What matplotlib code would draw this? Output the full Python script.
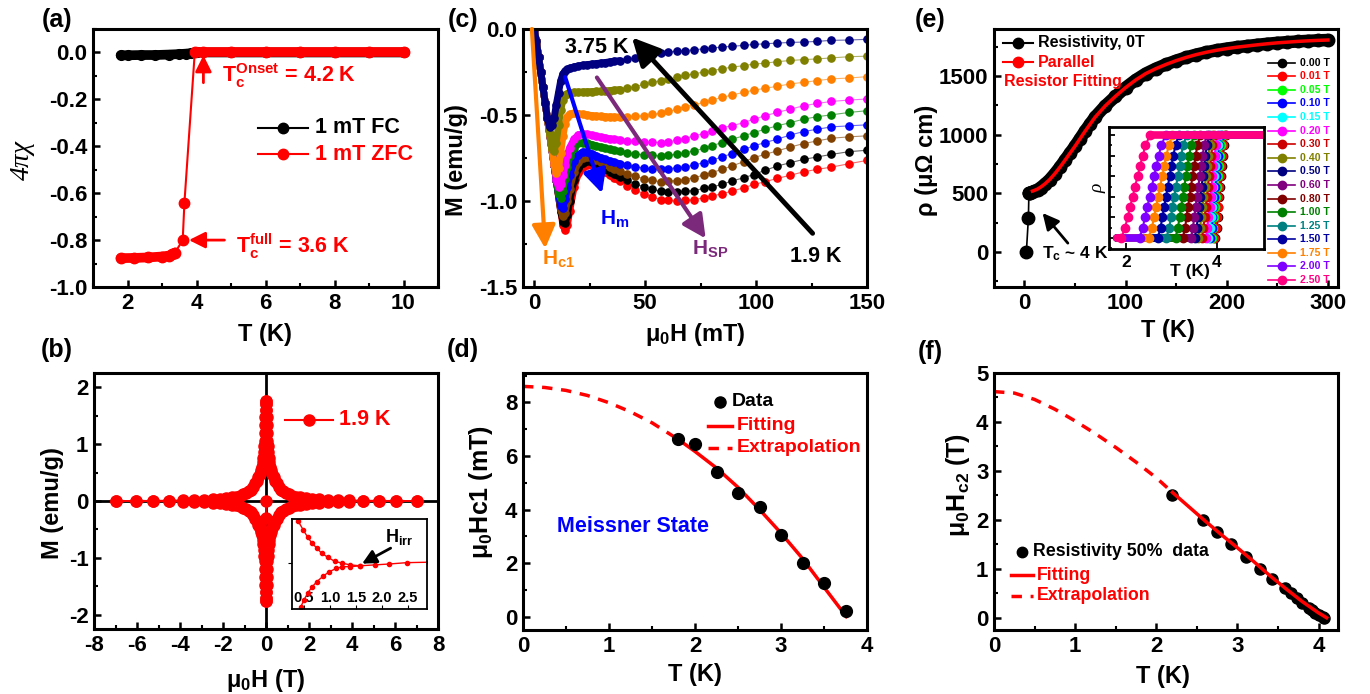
import matplotlib
matplotlib.use('Agg')
import matplotlib.pyplot as plt
from matplotlib.lines import Line2D
from matplotlib.ticker import MultipleLocator, NullFormatter

W, H = 1370, 694
plt.rcParams.update({
    'font.family': ['Liberation Sans', 'DejaVu Sans'],
    'font.weight': 'bold',
    'axes.unicode_minus': False,
    'mathtext.fontset': 'custom',
    'mathtext.rm': 'Liberation Sans:bold',
    'mathtext.it': 'Liberation Sans:bold',
    'mathtext.bf': 'Liberation Sans:bold',
    'mathtext.default': 'regular',
})

# ---------------- data: (a) susceptibility ----------------
fc_T = [1.8, 2.0, 2.4, 2.8, 3.2, 3.5, 3.7, 3.85, 4.0, 5.0, 6.0, 7.0, 8.0, 9.0, 10.0]
fc_chi = [-0.012, -0.012, -0.011, -0.011, -0.009, -0.007, -0.005, -0.003, 0.0, 0.0, 0.0, 0.0, 0.0, 0.0, 0.0]
zfc_T = [1.8, 2.2, 2.6, 3.0, 3.2, 3.3, 3.38, 3.6, 3.65, 3.95, 4.2, 5.0, 6.0, 7.0, 8.0, 9.0, 10.0]
zfc_chi = [-0.877, -0.876, -0.874, -0.870, -0.866, -0.861, -0.853, -0.800, -0.640, 0.0, 0.0, 0.0, 0.0, 0.0, 0.0, 0.0, 0.0]

# ---------------- data: (b) M(H) loop at 1.9 K ----------------
loop_H = [7.0, 6.05, 5.25, 4.5, 3.87, 3.34, 2.87, 2.48, 2.13, 1.85, 1.6, 1.4, 1.22, 1.06, 0.92, 0.8,
          0.7, 0.6, 0.5, 0.42, 0.35, 0.29, 0.24, 0.2, 0.16, 0.13, 0.1, 0.08, 0.065, 0.05, 0.04,
          0.03, 0.02, 0.01, 0.0]
loop_M = [0.001, 0.003, 0.005, 0.008, 0.012, 0.017, 0.023, 0.03, 0.04, 0.05, 0.063, 0.078, 0.095,
          0.115, 0.14, 0.17, 0.2, 0.25, 0.31, 0.36, 0.42, 0.48, 0.54, 0.6, 0.68, 0.76, 0.86, 0.96,
          1.06, 1.2, 1.33, 1.47, 1.6, 1.7, 1.76]
virgin_H = [0.0, 0.003, 0.006, 0.01, 0.015, 0.02]
virgin_M = [0.0, -0.3, -0.6, -0.9, -1.2, -1.5]
ins_up_H = [0.39, 0.49, 0.57, 0.65, 0.75, 0.84, 0.96, 1.09, 1.23, 1.39, 1.58, 1.86, 2.14, 2.48, 2.9]
ins_up_M = [0.372, 0.292, 0.232, 0.18, 0.132, 0.088, 0.052, 0.016, 0.0, -0.016, -0.024, -0.016, -0.008, 0.004, 0.008]
ins_lo_H = [0.44, 0.5, 0.57, 0.65, 0.75, 0.87, 0.99, 1.12, 1.24, 1.39, 1.58]
ins_lo_M = [-0.388, -0.328, -0.268, -0.216, -0.164, -0.116, -0.076, -0.048, -0.032, -0.032, -0.024]

# ---------------- data: (c) M(H) at several temperatures ----------------
c_H = [0, 1, 2, 3, 4, 5, 6, 7, 8, 9, 10, 11, 12, 13, 14, 15, 16, 18, 20, 22, 24, 26, 28, 30, 32, 34, 36,
       38.5, 42, 45.5, 49.5, 53, 57, 60.5, 64.5, 68, 72, 76.5, 80, 84.5, 89, 94.5, 99, 104, 109.5,
       115.5, 121.5, 127.5, 134, 142, 150]
c_temps = ['1.9 K', '2.0 K', '2.25 K', '2.5 K', '2.75 K', '3.0 K', '3.25 K', '3.5 K', '3.75 K']
c_colors = ['#FF0000', '#000000', '#804000', '#0000FF', '#008000', '#FF00FF', '#FF8000', '#808000', '#000080']
M_190 = [0, -0.07, -0.16, -0.25, -0.34, -0.43, -0.52, -0.61, -0.70, -0.79,
         -0.88, -0.97, -1.06, -1.14, -1.17, -1.14, -1.06, -0.92, -0.84, -0.805, -0.79, -0.79, -0.80,
         -0.815, -0.832, -0.85, -0.866, -0.884, -0.91, -0.935, -0.958, -0.976,
         -0.992, -0.997, -1.001, -0.997, -0.992, -0.982, -0.972, -0.958, -0.943, -0.923, -0.904,
         -0.888, -0.869, -0.85, -0.83, -0.816, -0.803, -0.783, -0.764]
M_200 = [0, -0.07, -0.16, -0.25, -0.34, -0.43, -0.52, -0.61, -0.70, -0.79,
         -0.88, -0.97, -1.06, -1.12, -1.13, -1.08, -1.0, -0.88, -0.81, -0.78, -0.77, -0.772, -0.785,
         -0.80, -0.815, -0.83, -0.845, -0.86, -0.88, -0.90, -0.918, -0.932,
         -0.943, -0.947, -0.947, -0.943, -0.939, -0.927, -0.919, -0.904, -0.884, -0.865, -0.846,
         -0.822, -0.797, -0.777, -0.758, -0.744, -0.729, -0.713, -0.705]
M_225 = [0, -0.07, -0.16, -0.25, -0.34, -0.43, -0.52, -0.61, -0.70, -0.79,
         -0.88, -0.97, -1.05, -1.09, -1.07, -1.0, -0.93, -0.83, -0.775, -0.75, -0.742, -0.748, -0.76,
         -0.773, -0.787, -0.80, -0.812, -0.826, -0.842, -0.857, -0.87, -0.88,
         -0.888, -0.884, -0.881, -0.875, -0.865, -0.849, -0.836, -0.816, -0.797, -0.771, -0.748,
         -0.729, -0.709, -0.686, -0.666, -0.651, -0.635, -0.627, -0.621]
M_250 = [0, -0.07, -0.16, -0.25, -0.34, -0.43, -0.52, -0.61, -0.70, -0.79,
         -0.88, -0.96, -1.03, -1.04, -0.99, -0.92, -0.85, -0.77, -0.73, -0.715, -0.716, -0.725, -0.737,
         -0.748, -0.758, -0.767, -0.775, -0.783, -0.793, -0.801, -0.808, -0.813,
         -0.816, -0.812, -0.807, -0.803, -0.791, -0.777, -0.764, -0.744, -0.725, -0.699, -0.68,
         -0.66, -0.641, -0.616, -0.596, -0.583, -0.569, -0.563, -0.557]
M_275 = [0, -0.07, -0.16, -0.25, -0.34, -0.43, -0.52, -0.61, -0.70, -0.79,
         -0.88, -0.96, -0.98, -0.94, -0.87, -0.80, -0.74, -0.69, -0.665, -0.66, -0.665, -0.672, -0.68,
         -0.687, -0.694, -0.70, -0.706, -0.712, -0.72, -0.726, -0.731, -0.735,
         -0.738, -0.733, -0.729, -0.719, -0.709, -0.694, -0.68, -0.66, -0.641, -0.621, -0.602,
         -0.583, -0.563, -0.544, -0.524, -0.51, -0.499, -0.485, -0.475]
M_300 = [0, -0.07, -0.16, -0.25, -0.34, -0.43, -0.52, -0.61, -0.70, -0.79,
         -0.88, -0.92, -0.90, -0.85, -0.79, -0.73, -0.69, -0.64, -0.615, -0.61, -0.612, -0.618, -0.624,
         -0.629, -0.633, -0.638, -0.642, -0.646, -0.651, -0.654, -0.657, -0.659,
         -0.66, -0.655, -0.647, -0.637, -0.621, -0.608, -0.592, -0.573, -0.563, -0.544, -0.524,
         -0.505, -0.485, -0.466, -0.446, -0.433, -0.421, -0.413, -0.407]
M_325 = [0, -0.07, -0.16, -0.25, -0.34, -0.43, -0.52, -0.61, -0.70, -0.79,
         -0.84, -0.81, -0.72, -0.62, -0.55, -0.51, -0.495, -0.49, -0.492, -0.496, -0.50, -0.503, -0.506,
         -0.508, -0.51, -0.511, -0.512, -0.512, -0.511, -0.508, -0.503, -0.497,
         -0.491, -0.479, -0.466, -0.452, -0.44, -0.427, -0.413, -0.398, -0.384, -0.368, -0.355,
         -0.345, -0.333, -0.319, -0.31, -0.30, -0.29, -0.285, -0.277]
M_350 = [0, -0.07, -0.16, -0.25, -0.34, -0.43, -0.52, -0.61, -0.70, -0.71,
         -0.66, -0.56, -0.47, -0.41, -0.385, -0.375, -0.37, -0.368, -0.367, -0.366, -0.365, -0.364, -0.363,
         -0.362, -0.36, -0.358, -0.356, -0.352, -0.345, -0.335, -0.322, -0.311,
         -0.30, -0.291, -0.281, -0.27, -0.261, -0.25, -0.242, -0.232, -0.222, -0.213, -0.204,
         -0.199, -0.19, -0.183, -0.178, -0.174, -0.168, -0.161, -0.158]
M_375 = [0, -0.07, -0.16, -0.25, -0.34, -0.43, -0.52, -0.57, -0.56, -0.52,
         -0.44, -0.37, -0.30, -0.26, -0.245, -0.235, -0.228, -0.22, -0.215, -0.21, -0.207, -0.204, -0.201,
         -0.198, -0.195, -0.191, -0.188, -0.184, -0.177, -0.169, -0.159, -0.15,
         -0.14, -0.134, -0.129, -0.125, -0.121, -0.115, -0.111, -0.105, -0.101, -0.095, -0.09,
         -0.086, -0.082, -0.078, -0.076, -0.072, -0.066, -0.064, -0.06]
c_curves = [M_190, M_200, M_225, M_250, M_275, M_300, M_325, M_350, M_375]
C_DENSE = 28  # points with H <= 38.5 mT are measured densely

# ---------------- data: (d) Hc1(T) ----------------
d_T = [1.80, 2.0, 2.25, 2.5, 2.75, 3.0, 3.25, 3.5, 3.75]
d_Hc1 = [6.63, 6.46, 5.40, 4.61, 4.11, 3.05, 2.00, 1.25, 0.22]
d_fit_T = [1.8, 2.0, 2.25, 2.5, 2.75, 3.0, 3.25, 3.5, 3.76]
d_fit_H = [6.63, 6.17, 5.55, 4.83, 4.00, 3.12, 2.17, 1.10, 0.0]
d_ext_T = [0.0, 0.25, 0.5, 0.75, 1.0, 1.25, 1.5, 1.8]
d_ext_H = [8.6, 8.56, 8.45, 8.26, 7.99, 7.65, 7.24, 6.63]

# ---------------- data: (e) resistivity ----------------
rho_T = [4.5, 6, 8, 10, 13, 16, 20, 25, 30, 35, 40, 45, 50, 55, 60, 65, 70, 80, 90, 100, 110, 120, 130,
         140, 150, 160, 170, 180, 190, 200, 210, 220, 230, 240, 250, 260, 270, 280, 290, 300]
rho = [500, 505, 510, 518, 530, 548, 575, 615, 665, 720, 780, 840, 900, 965, 1030, 1090, 1150, 1245,
       1325, 1400, 1465, 1520, 1562, 1598, 1630, 1658, 1682, 1702, 1719, 1733, 1745, 1755, 1765, 1774,
       1782, 1788, 1794, 1799, 1803, 1806]
drop_T = [2.0, 4.0, 4.5]
drop_rho = [0, 290, 500]
fit_T = [8, 10, 13, 16, 20, 25, 30, 35, 40, 45, 50, 55, 60, 65, 70, 80, 90, 100, 110, 120, 130, 140,
         150, 160, 170, 180, 190, 200, 210, 220, 230, 240, 250, 260, 270, 280, 290, 300]
fit_rho = [518, 524, 535, 551, 577, 616, 665, 720, 779, 840, 900, 964, 1028, 1089, 1149, 1245, 1326,
           1400, 1465, 1520, 1562, 1598, 1630, 1658, 1682, 1702, 1719, 1733, 1745, 1755, 1765, 1774,
           1782, 1788, 1794, 1799, 1803, 1806]
fields = ['0.00 T', '0.01 T', '0.05 T', '0.10 T', '0.15 T', '0.20 T', '0.30 T', '0.40 T', '0.50 T',
          '0.60 T', '0.80 T', '1.00 T', '1.25 T', '1.50 T', '1.75 T', '2.00 T', '2.50 T']
field_colors = ['#000000', '#FF0000', '#00FF00', '#0000FF', '#00FFFF', '#FF00FF', '#CC0000', '#808000',
                '#000080', '#800080', '#800000', '#008000', '#008080', '#0000A0', '#FF8000', '#8000FF',
                '#FF0080']
rho_levels = [0.0, 0.1, 0.2, 0.3, 0.4, 0.5, 0.6, 0.7, 0.8, 0.9, 1.0]
trans_T = [
    [3.96, 3.99, 4.01, 4.03, 4.05, 4.07, 4.09, 4.11, 4.13, 4.15, 4.19],
    [3.94, 3.97, 3.99, 4.01, 4.03, 4.05, 4.07, 4.09, 4.11, 4.13, 4.17],
    [3.89, 3.92, 3.94, 3.96, 3.98, 4.00, 4.02, 4.04, 4.06, 4.08, 4.12],
    [3.85, 3.88, 3.90, 3.92, 3.94, 3.96, 3.98, 4.00, 4.02, 4.04, 4.08],
    [3.80, 3.84, 3.86, 3.88, 3.90, 3.92, 3.94, 3.96, 3.98, 4.01, 4.05],
    [3.76, 3.79, 3.81, 3.84, 3.86, 3.88, 3.90, 3.92, 3.95, 3.97, 4.01],
    [3.67, 3.70, 3.73, 3.75, 3.78, 3.80, 3.82, 3.85, 3.87, 3.90, 3.94],
    [3.59, 3.63, 3.65, 3.68, 3.70, 3.73, 3.76, 3.78, 3.81, 3.84, 3.89],
    [3.51, 3.55, 3.58, 3.60, 3.63, 3.66, 3.69, 3.72, 3.74, 3.78, 3.83],
    [3.43, 3.47, 3.50, 3.53, 3.56, 3.59, 3.62, 3.65, 3.68, 3.72, 3.77],
    [3.25, 3.30, 3.33, 3.36, 3.40, 3.43, 3.46, 3.50, 3.53, 3.57, 3.63],
    [3.09, 3.14, 3.18, 3.21, 3.25, 3.28, 3.32, 3.35, 3.39, 3.43, 3.49],
    [2.89, 2.95, 2.99, 3.02, 3.06, 3.10, 3.14, 3.18, 3.21, 3.26, 3.33],
    [2.70, 2.76, 2.80, 2.84, 2.88, 2.92, 2.96, 3.00, 3.04, 3.09, 3.16],
    [2.50, 2.57, 2.62, 2.66, 2.71, 2.75, 2.80, 2.84, 2.89, 2.94, 3.02],
    [2.30, 2.37, 2.42, 2.47, 2.52, 2.57, 2.62, 2.67, 2.72, 2.78, 2.87],
    [1.90, 1.98, 2.04, 2.09, 2.15, 2.20, 2.26, 2.31, 2.37, 2.43, 2.53],
]
inset_T_start, inset_T_end = 1.8, 5.0

# ---------------- data: (f) Hc2(T) ----------------
f_T = [2.20, 2.57, 2.75, 2.92, 3.10, 3.28, 3.43, 3.59, 3.66, 3.73, 3.80, 3.88, 3.92, 3.96, 4.00, 4.05, 4.07]
f_Hc2 = [2.50, 2.00, 1.75, 1.50, 1.25, 1.00, 0.80, 0.60, 0.50, 0.40, 0.30, 0.20, 0.15, 0.10, 0.05, 0.01, 0.00]
f_fit_T = [2.2, 2.4, 2.6, 2.8, 3.0, 3.2, 3.4, 3.6, 3.8, 4.0, 4.1]
f_fit_H = [2.56, 2.27, 1.98, 1.70, 1.43, 1.15, 0.86, 0.59, 0.33, 0.10, 0.0]
f_ext_T = [0.0, 0.25, 0.5, 0.75, 1.0, 1.25, 1.5, 1.75, 2.0, 2.2]
f_ext_H = [4.62, 4.59, 4.46, 4.26, 4.02, 3.76, 3.48, 3.18, 2.86, 2.56]

RED = '#FF0000'
fig = plt.figure(figsize=(13.7, 6.94), dpi=100)


def add_ax(l, t, r, b):
    return fig.add_axes([l / W, 1 - b / H, (r - l) / W, (b - t) / H])


def ftext(x, y, s, **kw):
    return fig.text(x / W, 1 - y / H, s, **kw)


def leg(x0, x1, y, color, ls='-', lw=1.5, marker=None, ms=7, line=True):
    if line:
        fig.add_artist(Line2D([x0 / W, x1 / W], [1 - y / H, 1 - y / H], color=color, ls=ls, lw=lw,
                              transform=fig.transFigure))
    if marker:
        fig.add_artist(Line2D([(x0 + x1) / 2 / W], [1 - y / H], marker=marker, ms=ms, color=color,
                              ls='none', transform=fig.transFigure))


def style(ax, xmaj, xmin, ymaj, ymin, size=16, lw=2.2):
    ax.xaxis.set_major_locator(MultipleLocator(xmaj))
    ax.xaxis.set_minor_locator(MultipleLocator(xmin))
    ax.yaxis.set_major_locator(MultipleLocator(ymaj))
    ax.yaxis.set_minor_locator(MultipleLocator(ymin))
    ax.tick_params(which='both', direction='in', top=False, right=False, labelsize=size)
    ax.tick_params(which='major', length=5, width=1.8, pad=4)
    ax.tick_params(which='minor', length=3, width=1.5)
    for s in ax.spines.values():
        s.set_linewidth(lw)


def arrow(ax, start, end, color, lw=3, ms=20, hl=0.7, hw=0.35):
    ax.annotate('', xy=end, xytext=start,
                arrowprops=dict(arrowstyle='-|>,head_length=%g,head_width=%g' % (hl, hw), color=color,
                                lw=lw, shrinkA=0, shrinkB=0, mutation_scale=ms),
                annotation_clip=False)


# ================= (a) =================
axa = add_ax(93, 29, 438, 287)
axa.plot(fc_T, fc_chi, color='k', lw=7, solid_capstyle='round')
axa.plot(fc_T, fc_chi, '-o', color='k', lw=1.5, ms=7)
axa.plot(zfc_T[:7], zfc_chi[:7], color=RED, lw=7, solid_capstyle='round')
axa.plot(zfc_T[9:], zfc_chi[9:], color=RED, lw=7, solid_capstyle='round')
axa.plot(zfc_T, zfc_chi, '-o', color=RED, lw=1.5, ms=7.5)
axa.set_xlim(1, 11)
axa.set_ylim(-1.0, 0.1)
style(axa, 2, 1, 0.2, 0.1)
arrow(axa, (4.2, -0.129), (4.2, -0.012), RED, lw=2, ms=14)
arrow(axa, (4.81, -0.80), (3.78, -0.80), RED, lw=2, ms=14)
ftext(222, 82, r'T$_c^{Onset}$ = 4.2 K', color=RED, fontsize=15.5, va='baseline')
ftext(236, 253, r'T$_c^{full}$ = 3.6 K', color=RED, fontsize=15.5, va='baseline')
leg(258, 308, 127.7, 'k', marker='o', ms=7.5)
ftext(315, 127.7, '1 mT FC', color='k', fontsize=15.5, va='center')
leg(258, 308, 154.3, RED, marker='o', ms=7.5)
ftext(315, 154.3, '1 mT ZFC', color=RED, fontsize=15.5, va='center')
ftext(22, 160, '4πχ', rotation=90, ha='center', va='center', fontsize=20, family='Liberation Serif',
      style='italic', weight='normal')
ftext(265, 335, 'T (K)', ha='center', va='center', fontsize=17)

# ================= (b) =================
axb = add_ax(94, 373, 438, 629)
axb.axhline(0, color='k', lw=2, zorder=1)
axb.axvline(0, color='k', lw=2, zorder=1)
desc_H = loop_H + [-h for h in loop_H[::-1]]
desc_M = loop_M + loop_M[::-1]
asc_H = [-h for h in loop_H] + loop_H[::-1]
asc_M = [-m for m in loop_M] + [-m for m in loop_M[::-1]]
axb.plot(desc_H, desc_M, '-o', color=RED, lw=1.2, ms=8, zorder=2)
axb.plot(asc_H, asc_M, '-o', color=RED, lw=1.2, ms=8, zorder=2)
axb.plot(virgin_H, virgin_M, '-o', color=RED, lw=1.2, ms=8, zorder=2)
axb.set_xlim(-8, 8)
axb.set_ylim(-2.25, 2.25)
style(axb, 2, 1, 1, 0.5)
leg(285, 333, 420, RED, marker='o', ms=8)
ftext(339, 420, '1.9 K', color=RED, fontsize=15.5, va='center')
ftext(52, 503, 'M (emu/g)', rotation=90, ha='center', va='center', fontsize=17)
ftext(266, 680, 'μ$_0$H (T)', ha='center', va='center', fontsize=17)

axbi = add_ax(292, 519, 427, 609)
axbi.plot(ins_up_H, ins_up_M, '-o', color=RED, lw=1, ms=3)
axbi.plot(ins_lo_H, ins_lo_M, '-o', color=RED, lw=1, ms=3)
axbi.set_xlim(0.27, 2.87)
axbi.set_ylim(-0.408, 0.392)
axbi.set_xticks([0.5, 1.0, 1.5, 2.0, 2.5])
axbi.set_xticklabels(['0.5', '1.0', '1.5', '2.0', '2.5'])
axbi.set_yticks([0])
axbi.set_yticklabels([])
axbi.tick_params(axis='x', direction='in', length=3, pad=-13, labelsize=10.5, top=False)
axbi.tick_params(axis='y', direction='out', length=3, right=False)
for s in axbi.spines.values():
    s.set_linewidth(1.3)
arrow(axbi, (2.17, 0.133), (1.62, -0.005), 'k', lw=2, ms=12)
ftext(385, 541.7, 'H$_{irr}$', color='k', fontsize=13, va='baseline')

# ================= (c) =================
axc = add_ax(523, 29, 867, 287)
for M, col in zip(c_curves, c_colors):
    axc.plot(c_H[:C_DENSE], M[:C_DENSE], color=col, lw=5, solid_capstyle='round', solid_joinstyle='round')
    axc.plot(c_H, M, color=col, lw=0.8, alpha=0.6)
    axc.plot(c_H, M, 'o', color=col, ms=5.2)
axc.set_xlim(-5, 150)
axc.set_ylim(-1.5, 0.0)
style(axc, 50, 25, 0.5, 0.25)
arrow(axc, (-1.0, 0.0), (5.0, -1.276), '#FF8000', lw=3, ms=20)
arrow(axc, (14.0, -0.28), (30.6, -0.955), '#0000FF', lw=3, ms=20)
arrow(axc, (28.3, -0.282), (77.3, -1.218), '#7B2A7B', lw=3, ms=20)
arrow(axc, (125.5, -1.188), (44.1, -0.049), 'k', lw=3.5, ms=24)
ftext(565, 53.3, '3.75 K', color='k', fontsize=15.5, va='baseline')
ftext(790, 261.7, '1.9 K', color='k', fontsize=15.5, va='baseline')
ftext(541.5, 265, 'H$_{c1}$', color='#FF8000', fontsize=15, va='baseline')
ftext(600.5, 225, 'H$_m$', color='#0000FF', fontsize=15, va='baseline')
ftext(691.5, 255, 'H$_{SP}$', color='#7B2A7B', fontsize=15, va='baseline')
ftext(456, 160, 'M (emu/g)', rotation=90, ha='center', va='center', fontsize=17)
ftext(695, 335, 'μ$_0$H (mT)', ha='center', va='center', fontsize=17)

# ================= (d) =================
axd = add_ax(523, 373, 867, 630)
axd.plot(d_ext_T, d_ext_H, color=RED, lw=2.5, ls=(0, (3, 2.5)))
axd.plot(d_fit_T, d_fit_H, color=RED, lw=2.5)
axd.plot(d_T, d_Hc1, 'o', color='k', ms=8.5)
axd.set_xlim(0, 4)
axd.set_ylim(-0.5, 9.1)
style(axd, 1, 0.5, 2, 1)
leg(712, 728, 401.7, 'k', marker='o', ms=8, line=False)
ftext(731.7, 401.7, 'Data', color='k', fontsize=14, va='center')
leg(708, 732, 425.7, RED, lw=2.5)
ftext(736.7, 425.7, 'Fitting', color=RED, fontsize=14, va='center')
leg(708, 732, 447.7, RED, lw=2.5, ls=(0, (3, 2.5)))
ftext(736.7, 447.7, 'Extrapolation', color=RED, fontsize=14, va='center')
ftext(557, 531.7, 'Meissner State', color='#0000FF', fontsize=15.5, va='baseline')
ftext(481, 492, 'μ$_0$Hc1 (mT)', rotation=90, ha='center', va='center', fontsize=18)
ftext(695, 674, 'T (K)', ha='center', va='center', fontsize=17)

# ================= (e) =================
axe = add_ax(994, 29, 1338, 287)
axe.plot(drop_T, drop_rho, '-o', color='k', lw=1.2, ms=9)
axe.plot(rho_T, rho, color='k', lw=9, solid_capstyle='round')
axe.plot(rho_T, rho, 'o', color='k', ms=9)
axe.plot(fit_T, fit_rho, color=RED, lw=2.5)
axe.set_xlim(-30, 310)
axe.set_ylim(-300, 1900)
style(axe, 100, 50, 500, 250)
arrow(axe, (43, 74), (18, 331), 'k', lw=2, ms=14)
ftext(1042, 258.3, 'T$_c$ ~ 4 K', color='k', fontsize=12.5, va='baseline')
leg(1003, 1033, 42.7, 'k', marker='o', ms=7.5)
ftext(1038, 42.7, 'Resistivity, 0T', color='k', fontsize=11.5, va='center')
leg(1003, 1033, 62.3, RED, marker='o', ms=7.5)
ftext(1038, 62.3, 'Parallel', color=RED, fontsize=11.5, va='center')
ftext(1004, 81.7, 'Resistor Fitting', color=RED, fontsize=11.5, va='center')
for i, (lab, col) in enumerate(zip(fields, field_colors)):
    yy = 62.7 + i * 13.58
    leg(1268, 1295, yy, col, marker='o', ms=6, lw=1.2)
    ftext(1299.5, yy, lab, color=col, fontsize=7.6, va='center')
ftext(926, 160, 'ρ (μΩ cm)', rotation=90, ha='center', va='center', fontsize=17)
ftext(1168, 330, 'T (K)', ha='center', va='center', fontsize=17)

axei = add_ax(1109, 127, 1264, 249)
for Tt, col in zip(trans_T, field_colors):
    axei.plot([inset_T_start, Tt[0]], [rho_levels[0], rho_levels[0]], color=col, lw=5.5,
              solid_capstyle='round')
    axei.plot([Tt[-1], inset_T_end], [rho_levels[-1], rho_levels[-1]], color=col, lw=5.5,
              solid_capstyle='round')
    axei.plot(Tt, rho_levels, '-o', color=col, lw=1.5, ms=6)
axei.set_xlim(1.63, 5.03)
axei.set_ylim(-0.107, 1.078)
axei.set_xticks([2, 4])
axei.set_xticklabels(['2', '4'])
axei.yaxis.set_major_locator(MultipleLocator(0.2))
axei.yaxis.set_minor_locator(MultipleLocator(0.1))
axei.yaxis.set_major_formatter(NullFormatter())
axei.tick_params(which='both', direction='in', top=False, right=False, labelsize=12.5)
axei.tick_params(which='major', length=4, width=1.3, pad=4)
axei.tick_params(which='minor', length=2.5, width=1.2)
for s in axei.spines.values():
    s.set_linewidth(2)
axei.text(0.52, -0.12, 'T (K)', transform=axei.transAxes, ha='center', va='top', fontsize=12.5)
ftext(1098, 188, 'ρ', rotation=90, ha='center', va='center', fontsize=14, family='Liberation Serif',
      style='italic', weight='normal')

# ================= (f) =================
axf = add_ax(994, 373, 1338, 630)
axf.plot(f_ext_T, f_ext_H, color=RED, lw=2.5, ls=(0, (3, 2.5)))
axf.plot(f_T, f_Hc2, 'o', color='k', ms=8)
axf.plot(f_fit_T, f_fit_H, color=RED, lw=2.5)
axf.set_xlim(0, 4.24)
axf.set_ylim(-0.25, 5.0)
style(axf, 1, 0.5, 1, 0.5)
leg(1016, 1028, 551.7, 'k', marker='o', ms=7.5, line=False)
ftext(1033.3, 551.7, 'Resistivity 50%  data', color='k', fontsize=12.8, va='center')
leg(1010.7, 1033.3, 575, RED, lw=2.5)
ftext(1037.3, 575, 'Fitting', color=RED, fontsize=12.8, va='center')
leg(1010.7, 1033.3, 596, RED, lw=2.5, ls=(0, (3, 2.5)))
ftext(1037.3, 596, 'Extrapolation', color=RED, fontsize=12.8, va='center')
ftext(958, 485, 'μ$_0$H$_{c2}$ (T)', rotation=90, ha='center', va='center', fontsize=18)
ftext(1163, 677, 'T (K)', ha='center', va='center', fontsize=17)

# ================= panel labels =================
for lab, x, y in [('(a)', 57, 20), ('(b)', 57, 350), ('(c)', 463, 20), ('(d)', 463, 350),
                  ('(e)', 930, 20), ('(f)', 930, 352)]:
    ftext(x, y, lab, ha='center', va='center', fontsize=18)

fig.savefig('out.png', dpi=100)
